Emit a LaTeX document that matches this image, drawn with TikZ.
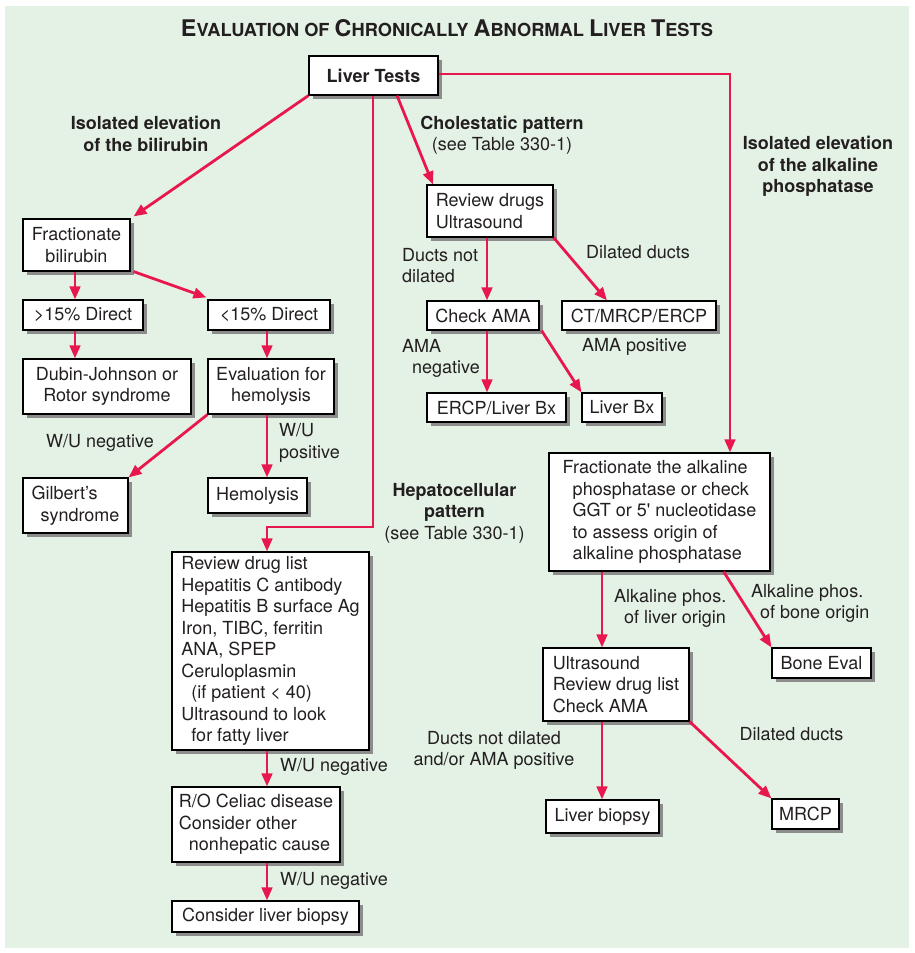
\documentclass[tikz,border=0pt]{standalone}
\usepackage{fontspec}
\setmainfont{TeX Gyre Heros}
\usetikzlibrary{arrows.meta,shadows}
\definecolor{bg}{RGB}{228,242,229}
\definecolor{arr}{RGB}{232,24,78}
\definecolor{txt}{RGB}{35,31,32}
\begin{document}
\begin{tikzpicture}[x=1pt,y=-1pt,
  box/.style={draw=black, line width=1.1pt, fill=white, inner sep=0pt, text=txt,
    font=\fontsize{18}{21.5}\selectfont,
    drop shadow={shadow xshift=3.5pt, shadow yshift=-3.5pt, fill=black!45, opacity=1}},
  lbl/.style={inner sep=0pt, text=txt, font=\fontsize{18}{21.5}\selectfont},
  blbl/.style={lbl, font=\fontsize{18}{21.5}\selectfont\bfseries},
  conn/.style={draw=arr, line width=2.8pt},
  arrow/.style={conn, -{Triangle[length=13pt,width=10.5pt]}},
]
\useasboundingbox (0,0) rectangle (915,953);
\fill[white] (0,0) rectangle (915,953);
\fill[bg] (5,6) rectangle (909,948);

% title
\node[inner sep=0pt, text=txt] (title) at (447,28.5)
  {\resizebox{532pt}{17pt}{\bfseries\fontsize{23}{23}\selectfont E{\fontsize{18}{18}\selectfont VALUATION OF }C{\fontsize{18}{18}\selectfont HRONICALLY }A{\fontsize{18}{18}\selectfont BNORMAL }L{\fontsize{18}{18}\selectfont IVER }T{\fontsize{18}{18}\selectfont ESTS}}};

% coordinates for vertical runs
\coordinate (xA) at (75,0);
\coordinate (xB) at (267,0);
\coordinate (xC) at (487,0);
\coordinate (xD) at (602,0);
\coordinate (xE) at (730,0);
\coordinate (xF) at (373,0);
\coordinate (yH) at (0,527);
\coordinate (yT) at (0,74);

% boxes
\node[box, minimum width=129pt, minimum height=39pt] (lt) at (373.5,75.5) {\bfseries Liver Tests};
\node[box, minimum width=107pt, minimum height=52pt, align=center] (fb) at (76.5,245) {Fractionate\\bilirubin};
\node[box, minimum width=120pt, minimum height=30pt] (d15) at (83,315) {>15\% Direct};
\node[box, minimum width=122pt, minimum height=30pt] (l15) at (269,315) {<15\% Direct};
\node[box, minimum width=168pt, minimum height=55pt, align=center] (dj) at (107,386.5) {Dubin-Johnson or\\Rotor syndrome};
\node[box, minimum width=126pt, minimum height=55pt, align=center] (eh) at (271,386.5) {Evaluation for\\hemolysis};
\node[box, minimum width=105pt, minimum height=55pt, align=left] (gs) at (75.5,505.5) {Gilbert’s\\\hspace*{9pt}syndrome};
\node[box, minimum width=99pt, minimum height=35pt] (hm) at (257.5,495.5) {Hemolysis};
\node[box, minimum width=197pt, minimum height=198pt, align=left] (rdl) at (270.5,651)
  {Review drug list\\Hepatitis C antibody\\Hepatitis B surface Ag\\Iron, TIBC, ferritin\\ANA, SPEP\\Ceruloplasmin\\\hspace*{10pt}(if patient < 40)\\Ultrasound to look\\\hspace*{10pt}for fatty liver};
\node[box, minimum width=168pt, minimum height=75pt, align=left] (roc) at (256,824.5)
  {R/O Celiac disease\\Consider other\\\hspace*{10pt}nonhepatic cause};
\node[box, minimum width=187pt, minimum height=31pt] (clb) at (265.5,916.5) {Consider liver biopsy};
\node[box, minimum width=126pt, minimum height=52pt, align=left] (rdu) at (490,211) {Review drugs\\Ultrasound};
\node[box, minimum width=112pt, minimum height=29pt] (ca) at (483,315.5) {Check AMA};
\node[box, minimum width=154pt, minimum height=29pt] (ct) at (639,315.5) {CT/MRCP/ERCP};
\node[box, minimum width=139pt, minimum height=29pt] (elb) at (496.5,407.5) {ERCP/Liver Bx};
\node[box, minimum width=80pt, minimum height=29pt] (lbx) at (622,407.5) {Liver Bx};
\node[box, minimum width=221pt, minimum height=118pt, align=left] (fap) at (659.5,512)
  {Fractionate the alkaline\\\hspace*{10pt}phosphatase or check\\\hspace*{10pt}GGT or 5\textquotesingle{} nucleotidase\\\hspace*{10pt}to assess origin of\\\hspace*{10pt}alkaline phosphatase};
\node[box, minimum width=146pt, minimum height=73pt, align=left] (us) at (616,684.5) {Ultrasound\\Review drug list\\Check AMA};
\node[box, minimum width=113pt, minimum height=33pt] (lbio) at (602.5,816.5) {Liver biopsy};
\node[box, minimum width=99pt, minimum height=30pt] (be) at (821.5,663) {Bone Eval};
\node[box, minimum width=67pt, minimum height=30pt] (mr) at (805.5,814) {MRCP};

% labels
\node[blbl, align=center] (t1) at (146,134) {Isolated elevation\\of the bilirubin};
\node[lbl, align=center] (t2) at (502,135) {{\bfseries Cholestatic pattern}\\(see Table 330-1)};
\node[blbl, align=center] (t3) at (818,166.5) {Isolated elevation\\of the alkaline\\phosphatase};
\node[lbl, align=center] (t4) at (454.5,513) {{\bfseries Hepatocellular}\\{\bfseries pattern}\\(see Table 330-1)};
\node[lbl] (t5) at (100,443) {W/U negative};
\node[lbl, align=left, anchor=west] (t6) at (279,443) {W/U\\positive};
\node[lbl, align=left, anchor=west] (t7) at (402,265.5) {Ducts not\\dilated};
\node[lbl] (t8) at (638,252) {Dilated ducts};
\node[lbl, align=left, anchor=west] (t9) at (402,358.5) {AMA\\\hspace*{10pt}negative};
\node[lbl] (t10) at (634.5,347) {AMA positive};
\node[lbl, anchor=west] (t11) at (280,767) {W/U negative};
\node[lbl, anchor=west] (t12) at (280,881) {W/U negative};
\node[lbl, align=left, anchor=west] (t13) at (614,608.5) {Alkaline phos.\\\hspace*{10pt}of liver origin};
\node[lbl, align=left, anchor=west] (t14) at (751,603.5) {Alkaline phos.\\\hspace*{9pt}of bone origin};
\node[lbl] (t15) at (791.5,734) {Dilated ducts};
\node[lbl, align=center] (t16) at (494,750.5) {Ducts not dilated\\and/or AMA positive};

% connectors
\draw[arrow] (lt.south west) -- ([shift={(3,-2)}]fb.north east);
\draw[arrow] (lt.south -| xF) -- (xF |- yH) -- (xB |- yH) -- (rdl.north -| xB);
\draw[arrow] ([xshift=23.5pt]lt.south) -- ([xshift=-57pt]rdu.north);
\draw[arrow] (lt.east |- yT) -- (xE |- yT) -- (fap.north -| xE);

\draw[arrow] (fb.south -| xA) -- (d15.north -| xA);
\draw[arrow] ([xshift=3pt]fb.south east) -- ([shift={(-1,-2)}]l15.north west);
\draw[arrow] (d15.south -| xA) -- (dj.north -| xA);
\draw[arrow] (l15.south -| xB) -- (eh.north -| xB);
\draw[arrow] (eh.south west) -- (gs.north east);
\draw[arrow] (eh.south -| xB) -- (hm.north -| xB);
\draw[arrow] (rdl.south -| xB) -- (roc.north -| xB);
\draw[arrow] (roc.south -| xB) -- (clb.north -| xB);

\draw[arrow] (rdu.south -| xC) -- (ca.north -| xC);
\draw[arrow] (rdu.south east) -- ([xshift=-32pt]ct.north);
\draw[arrow] (ca.south -| xC) -- (elb.north -| xC);
\draw[arrow] ([xshift=2pt]ca.south east) -- (lbx.north west);

\draw[arrow] (fap.south -| xD) -- (us.north -| xD);
\draw[arrow] ([xshift=-47pt]fap.south east) -- (be.north west);
\draw[arrow] (us.south -| xD) -- (lbio.north -| xD);
\draw[arrow] (us.south east) -- (mr.north west);
\end{tikzpicture}
\end{document}
